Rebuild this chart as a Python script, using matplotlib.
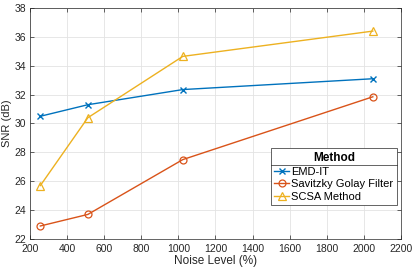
import matplotlib
matplotlib.use("Agg")
import matplotlib.pyplot as plt
from matplotlib.lines import Line2D

noise_level = [256, 512, 1024, 2048]
emd_it = [30.5, 31.3, 32.35, 33.1]
savitzky_golay = [22.9, 23.7, 27.5, 31.85]
scsa = [25.7, 30.4, 34.65, 36.4]

plt.rcParams['font.family'] = ['Liberation Sans', 'DejaVu Sans']
plt.rcParams['font.size'] = 7.5

fig = plt.figure(figsize=(4.16, 2.67), dpi=100)
ax = fig.add_axes([0.072, 0.105, 0.892, 0.865])

ax.plot(noise_level, emd_it, color='#0072BD', marker='x', ms=4, mew=1, lw=1, label='EMD-IT')
ax.plot(noise_level, savitzky_golay, color='#D95319', marker='o', ms=5, mfc='none', mew=0.9, lw=1,
        label='Savitzky Golay Filter')
ax.plot(noise_level, scsa, color='#EDB120', marker='^', ms=5.5, mfc='none', mew=0.9, lw=1, label='SCSA Method')

ax.set_xlim(200, 2200)
ax.set_ylim(22, 38)
ax.set_xticks(range(200, 2201, 200))
ax.set_yticks(range(22, 39, 2))
ax.grid(True, color='#e3e3e3', lw=0.6)
ax.set_axisbelow(True)
ax.tick_params(direction='in', top=True, right=True, length=3, width=0.5, colors='#262626', labelsize=7.5)
ax.tick_params(axis='x', pad=3.5)
ax.tick_params(axis='y', pad=2.5)
for s in ax.spines.values():
    s.set_color('#262626')
    s.set_linewidth(0.5)
ax.set_xlabel('Noise Level (%)', color='#262626', labelpad=0.5, fontsize=8.5)
ax.set_ylabel('SNR (dB)', color='#262626', fontsize=8)
ax.yaxis.set_label_coords(-0.049, 0.5)

leg = ax.legend(title='Method', loc='lower right', bbox_to_anchor=(0.988, 0.145), fancybox=False,
                edgecolor='#262626', framealpha=1, borderpad=0.3, handlelength=1.3, handletextpad=0.2,
                labelspacing=0.25, borderaxespad=0, fontsize=8, title_fontsize=8.5)
leg.get_title().set_fontweight('bold')
leg.get_frame().set_linewidth(0.5)

fig.canvas.draw()
fb = leg.get_frame().get_window_extent()
tb = leg.get_title().get_window_extent()
inv = fig.transFigure.inverted()
(x0, y0), (x1, _) = inv.transform([(fb.x0, tb.y0 - 1.5), (fb.x1, tb.y0)])
fig.add_artist(Line2D([x0, x1], [y0, y0], color='#262626', lw=0.5, transform=fig.transFigure))

fig.savefig('out.png', dpi=100)
